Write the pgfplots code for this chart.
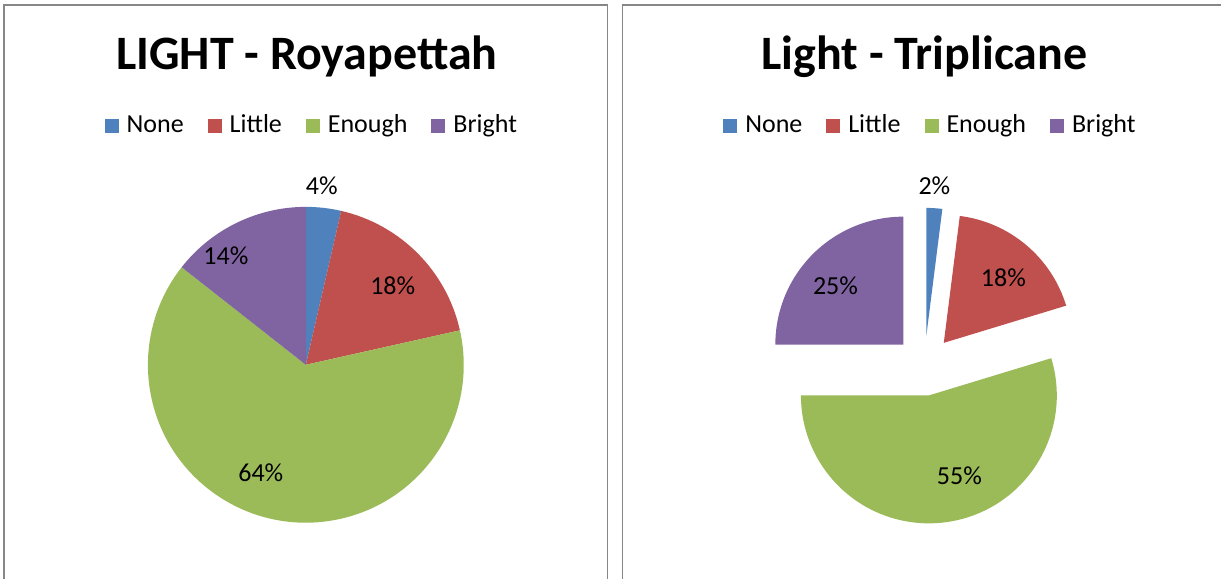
\documentclass[border=0pt]{standalone}
\usepackage{pgfplots}
\pgfplotsset{compat=1.18}
\usepackage{pgfplotstable}
\usepackage{fontspec}
\setmainfont{Carlito}
\usetikzlibrary{calc}

\definecolor{pc0}{HTML}{4F81BD}
\definecolor{pc1}{HTML}{C0504D}
\definecolor{pc2}{HTML}{9BBB59}
\definecolor{pc3}{HTML}{8064A2}
\definecolor{framegray}{HTML}{878787}

% slices clockwise from 12 o'clock; lx ly = label position (px)
\pgfplotstableread{
name   value lx  ly
None   3.6   322 186
Little 17.9  393 286
Enough 64.1  261 473
Bright 14.4  226 256
}\royapettah

\pgfplotstableread{
name   value lx   ly
None   2.0   935  186
Little 18.3  1004 278
Enough 54.7  960  476
Bright 25.0  836  286
}\triplicane

\newcommand{\lblfont}{\fontsize{13}{15}\selectfont}

% #1 table, #2 #3 centre (px), #4 radius, #5 explode distance
\newcommand{\drawpie}[5]{%
  \xdef\cum{0}%
  \foreach \i in {0,1,2,3}{%
    \pgfplotstablegetelem{\i}{value}\of{#1}\let\pv\pgfplotsretval
    \pgfplotstablegetelem{\i}{lx}\of{#1}\let\lx\pgfplotsretval
    \pgfplotstablegetelem{\i}{ly}\of{#1}\let\ly\pgfplotsretval
    \pgfmathsetmacro{\aone}{90-3.6*\cum}%
    \pgfmathsetmacro{\atwo}{\aone-3.6*\pv}%
    \pgfmathsetmacro{\amid}{(\aone+\atwo)/2}%
    \fill[pc\i] ($(axis cs:#2,#3)+(\amid:#5)$) -- ++(\aone:#4)
      arc[start angle=\aone, end angle=\atwo, radius=#4] -- cycle;
    \node[font=\lblfont] at (axis cs:\lx,\ly)
      {\pgfmathprintnumber[fixed,precision=0,assume math mode=true]{\pv}\%};
    \pgfmathsetmacro{\newcum}{\cum+\pv}\xdef\cum{\newcum}%
  }%
}

\pgfplotsset{
  panel/.style={
    x=0.5pt, y=0.5pt, y dir=reverse,
    xmin=0, xmax=1222, ymin=0, ymax=579,
    hide axis, clip=false,
    legend columns=4,
    legend image code/.code={\fill[##1, draw=none] (0pt,-3.5pt) rectangle (7pt,3.5pt);},
    legend style={draw=none, fill=none, inner sep=0pt, anchor=center,
      font=\fontsize{13}{15}\selectfont,
      nodes={inner sep=0pt, text height=0.84em, text depth=0.2em},
      /tikz/every odd column/.append style={column sep=4pt},
      /tikz/every even column/.append style={column sep=12pt}},
  },
}

\begin{document}
\begin{tikzpicture}
\begin{axis}[panel, legend style={at={(axis cs:311,126)}}]
  \path (axis cs:0,0) rectangle (axis cs:1222,579);
  \draw[framegray, line width=0.75pt] (axis cs:4,579) -- (axis cs:4,5) -- (axis cs:608,5) -- (axis cs:608,579);
  \node[font=\bfseries\fontsize{24}{28}\selectfont, anchor=base] at (axis cs:307,70) {LIGHT - Royapettah};
  \addlegendimage{fill=pc0}\addlegendentry{None}
  \addlegendimage{fill=pc1}\addlegendentry{Little}
  \addlegendimage{fill=pc2}\addlegendentry{Enough}
  \addlegendimage{fill=pc3}\addlegendentry{Bright}
  \pgfplotsextra{\drawpie{\royapettah}{306}{365}{79pt}{0pt}}
\end{axis}
\begin{axis}[panel, legend style={at={(axis cs:930,126)}}]
  \draw[framegray, line width=0.75pt] (axis cs:623,579) -- (axis cs:623,5) -- (axis cs:1222,5);
  \node[font=\bfseries\fontsize{24}{28}\selectfont, anchor=base] at (axis cs:925,70) {Light - Triplicane};
  \addlegendimage{fill=pc0}\addlegendentry{None}
  \addlegendimage{fill=pc1}\addlegendentry{Little}
  \addlegendimage{fill=pc2}\addlegendentry{Enough}
  \addlegendimage{fill=pc3}\addlegendentry{Bright}
  \pgfplotsextra{\drawpie{\triplicane}{925}{366}{64pt}{15pt}}
\end{axis}
\end{tikzpicture}
\end{document}
